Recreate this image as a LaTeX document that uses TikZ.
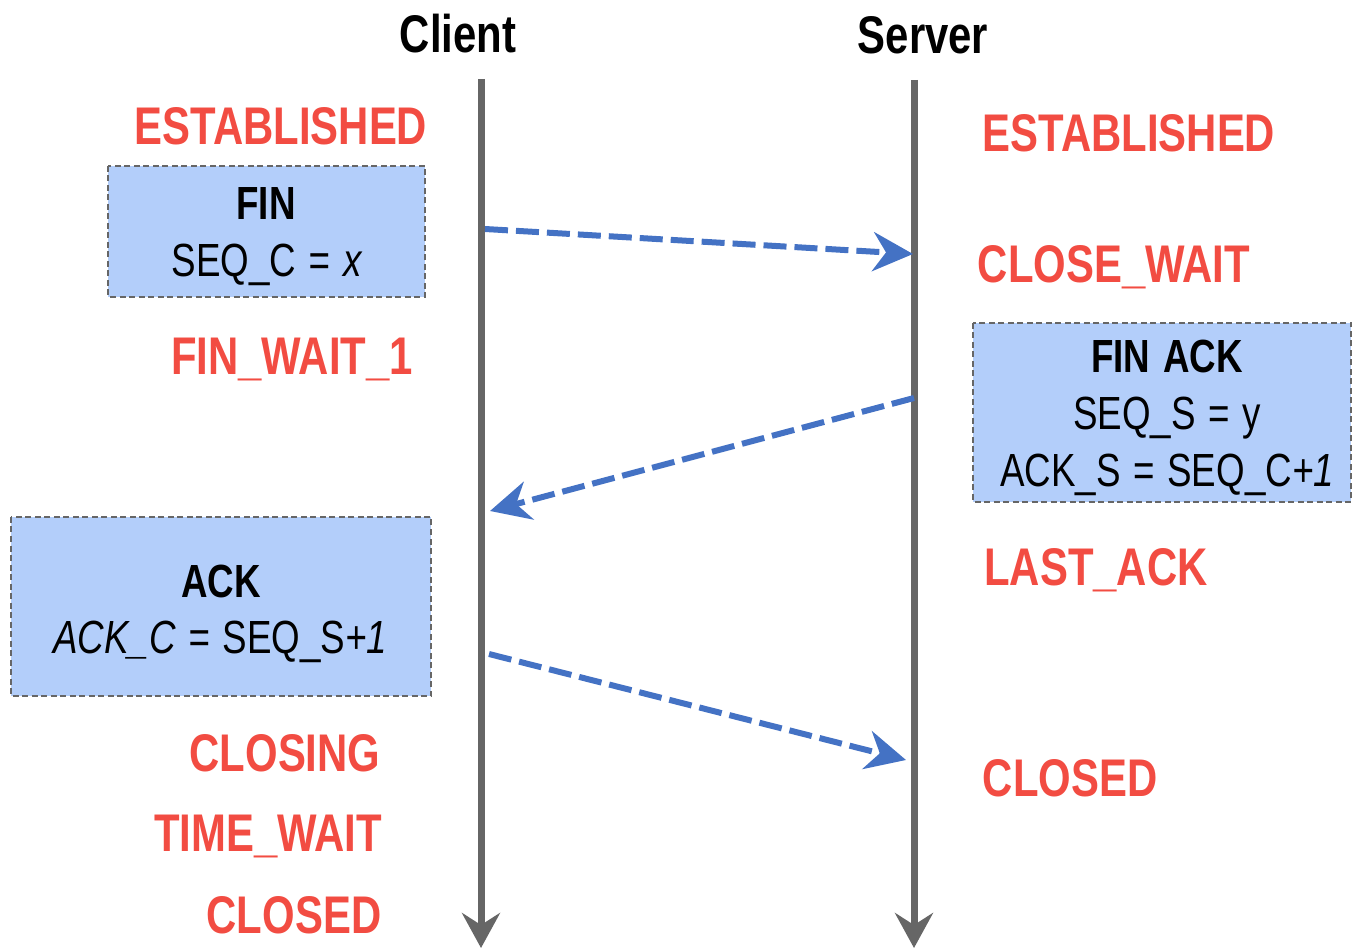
\documentclass[tikz,border=0pt]{standalone}
\usepackage{fontspec}
\setmainfont{Liberation Sans}[FakeStretch=0.79,WordSpace=1.25]
\usetikzlibrary{arrows.meta}

\definecolor{statered}{RGB}{242,76,66}
\definecolor{msgblue}{RGB}{68,114,196}
\definecolor{boxfill}{RGB}{179,206,250}
\definecolor{lifegray}{RGB}{102,102,102}

\begin{document}
\begin{tikzpicture}[x=1pt,y=-1pt,
  header/.style={font=\fontsize{53}{60}\selectfont\bfseries, text=black, anchor=base, inner sep=0pt},
  statelbl/.style={font=\fontsize{53}{60}\selectfont\bfseries, text=statered, anchor=base, inner sep=0pt},
  boxline/.style={font=\fontsize{46.5}{52}\selectfont, text=black, anchor=base, inner sep=0pt},
  boxhead/.style={font=\fontsize{46.5}{52}\selectfont\bfseries, text=black, anchor=base, inner sep=0pt},
  msgbox/.style={draw=lifegray, fill=boxfill, line width=2.5pt, dash pattern=on 6pt off 3.5pt},
  lifeline/.style={draw=lifegray, line width=7pt,
    -{Stealth[length=35pt,width=38pt,inset=12pt]}},
  msg/.style={draw=msgblue, line width=6pt, dash pattern=on 23pt off 8pt,
    -{Stealth[length=40pt,width=39pt,inset=13pt]}},
]
\useasboundingbox (0,0) rectangle (1353,949);

% lifelines
\coordinate (ctop) at (481,79);
\coordinate (cbot) at (481,948);
\coordinate (stop) at (914,80);
\coordinate (sbot) at (914,948);
\draw[lifeline] (ctop) -- (cbot);
\draw[lifeline] (stop) -- (sbot);

% headers
\node[header] (client) at (458,53) {Client};
\node[header] (server) at (923,54) {Server};

% message boxes
\path[msgbox] (108,166) rectangle (425,297);
\node (finbox) at (266.5,231.5) {};
\node[boxhead] (finA) at (266,220) {FIN};
\node[boxline] (finB) at (267,277) {SEQ\_C \textit{= x}};

\path[msgbox] (973,323) rectangle (1351,502);
\node (finackbox) at (1162,412.5) {};
\node[boxhead] (faA) at (1167,373) {FIN ACK};
\node[boxline] (faB) at (1167,430) {SEQ\_S = y};
\node[boxline] (faC) at (1167,487) {ACK\_S = SEQ\_C\textit{+1}};

\path[msgbox] (11,517) rectangle (431,696);
\node (ackbox) at (221,606.5) {};
\node[boxhead] (ackA) at (221,597) {ACK};
\node[boxline] (ackB) at (220,653) {\textit{ACK\_C =} SEQ\_S\textit{+1}};

% client states
\node[statelbl] (cEst) at (281,145) {ESTABLISHED};
\node[statelbl] (cFw1) at (292,375) {FIN\_WAIT\_1};
\node[statelbl] (cClosing) at (285,771) {CLOSING};
\node[statelbl] (cTw) at (268,851) {TIME\_WAIT};
\node[statelbl] (cClosed) at (294,933) {CLOSED};

% server states
\node[statelbl] (sEst) at (1129,152) {ESTABLISHED};
\node[statelbl] (sCw) at (1114,283) {CLOSE\_WAIT};
\node[statelbl] (sLa) at (1096,585) {LAST\_ACK};
\node[statelbl] (sClosed) at (1070,796) {CLOSED};

% message endpoints on the lifelines
\coordinate (m1a) at (485,229);
\coordinate (m1b) at (913,254);
\coordinate (m2a) at (914,398);
\coordinate (m2b) at (490,511);
\coordinate (m3a) at (489,654);
\coordinate (m3b) at (906,760);

\draw[msg] (m1a) -- (m1b);
\draw[msg] (m2a) -- (m2b);
\draw[msg] (m3a) -- (m3b);
\end{tikzpicture}
\end{document}
